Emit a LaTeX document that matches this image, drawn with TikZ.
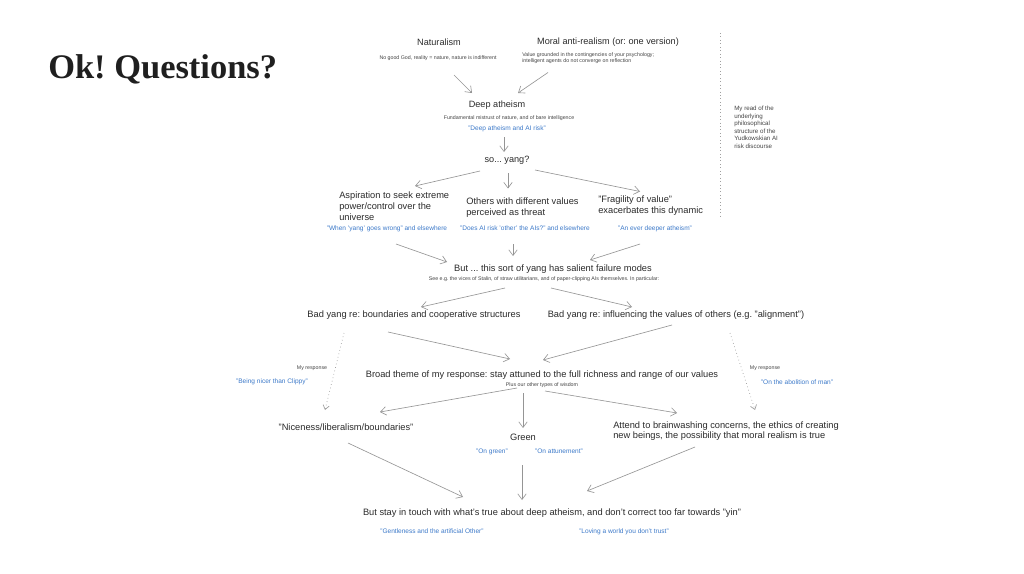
\documentclass[tikz,border=0pt]{standalone}
\usepackage{fontspec}
\setmainfont{Liberation Sans}
\newfontfamily\titlefont{Liberation Serif}
\usetikzlibrary{arrows.meta,calc}
\definecolor{inkgray}{HTML}{2A2A2A}
\definecolor{notegray}{HTML}{444444}
\definecolor{linkblue}{HTML}{3B78C8}
\definecolor{arrowgray}{HTML}{959595}
\definecolor{dotgray}{HTML}{A0A0A0}
\frenchspacing

\begin{document}
\begin{tikzpicture}[x=0.025cm, y=-0.025cm,
  every node/.style={inner sep=0pt, text=inkgray},
  head/.style={font=\fontsize{6.5}{8}\selectfont, text height=4.7pt, text depth=1.3pt},
  main/.style={font=\fontsize{6.6}{7.8}\selectfont, text height=4.7pt, text depth=1.4pt},
  block/.style={font=\fontsize{6.6}{7.9}\selectfont, align=left, anchor=west},
  note/.style={font=\fontsize{3.75}{4.3}\selectfont, text=notegray, text height=2.7pt, text depth=0.8pt},
  noteblock/.style={font=\fontsize{3.75}{4.3}\selectfont, text=notegray, align=left, anchor=west},
  link/.style={font=\fontsize{4.65}{5.5}\selectfont, text=linkblue, text height=3.3pt, text depth=1pt},
  side/.style={font=\fontsize{4.4}{5.3}\selectfont, text=notegray, align=left},
  arr/.style={draw=arrowgray, line width=0.45pt, -{Straight Barb[length=4pt,width=6pt]}},
  dotarr/.style={draw=dotgray, line width=0.5pt, dotted, -{Straight Barb[length=3pt,width=4.5pt]}}]
  \path[use as bounding box] (0,0) rectangle (1024,573);

  % title
  \node[font=\titlefont\bfseries\fontsize{24.5}{28}\selectfont, anchor=base west, text=black!88] (title) at (48,78) {Ok! Questions?};

  % upper half: the argument
  \node[head] (nat) at (439,43) {Naturalism};
  \node[note] (natsub) at (438,58) {No good God, reality = nature, nature is indifferent};
  \node[head] (anti) at (608,42) {Moral anti-realism (or: one version)};
  \node[noteblock] (antisub) at (522,58.5) {Value grounded in the contingencies of your psychology;\\intelligent agents do not converge on reflection};
  \node[head] (deep) at (497,105) {Deep atheism};
  \node[note] (deepsub) at (509,118) {Fundamental mistrust of nature, and of bare intelligence};
  \node[link] (deeplink) at (507,129) {"Deep atheism and AI risk"};
  \node[head] (yang) at (507,160) {so... yang?};
  \node[block] (aspire) at (339,206) {Aspiration to seek extreme\\power/control over the\\universe};
  \node[block] (others) at (466,207.5) {Others with different values\\perceived as threat};
  \node[block] (fragile) at (598,205.5) {"Fragility of value"\\exacerbates this dynamic};
  \node[link] (l1) at (387,229) {"When 'yang' goes wrong" and elsewhere};
  \node[link] (l2) at (525,229) {"Does AI risk 'other' the AIs?" and elsewhere};
  \node[link] (l3) at (655,229) {"An ever deeper atheism"};
  \node[main] (fail) at (553,269) {But ... this sort of yang has salient failure modes};
  \node[note] (failsub) at (544,279) {See e.g. the vices of Stalin, of straw utilitarians, and of paper-clipping AIs themselves. In particular:};
  \node[main] (badb) at (414,315) {Bad yang re: boundaries and cooperative structures};
  \node[main] (badv) at (676,315) {Bad yang re: influencing the values of others (e.g. "alignment")};

  % lower half: the response
  \node[main] (broad) at (542,375) {Broad theme of my response: stay attuned to the full richness and range of our values};
  \node[note] (broadsub) at (542,385) {Plus our other types of wisdom};
  \node[note] (respl) at (312,368) {My response};
  \node[link] (linkl) at (272,382) {"Being nicer than Clippy"};
  \node[note] (respr) at (765,368) {My response};
  \node[link] (linkr) at (797,383) {"On the abolition of man"};
  \node[main] (nice) at (346,428) {"Niceness/liberalism/boundaries"};
  \node[main] (green) at (523,438) {Green};
  \node[link] (lgreen) at (492,452) {"On green"};
  \node[link] (lattune) at (559,452) {"On attunement"};
  \node[block, font=\fontsize{6.6}{7.4}\selectfont] (attend) at (613,431) {Attend to brainwashing concerns, the ethics of creating\\new beings, the possibility that moral realism is true};
  \node[main] (final) at (552,513) {But stay in touch with what's true about deep atheism, and don't correct too far towards "yin"};
  \node[link] (lgentle) at (432,532) {"Gentleness and the artificial Other"};
  \node[link] (lloving) at (624,532) {"Loving a world you don't trust"};

  % side remark
  \draw[dotgray, dotted, line width=0.45pt] (720.5,33) -- (720.5,218);
  \node[side, anchor=north west] (myread) at (734,106) {My read of the\\underlying\\philosophical\\structure of the\\Yudkowskian AI\\risk discourse};

  % arrows
  \draw[arr] ($(natsub)+(16,17)$) -- ($(deep)+(-25,-12)$);
  \draw[arr] ($(antisub.west)+(26,14)$) -- ($(deep)+(21,-12)$);
  \draw[arr] ($(deeplink)+(-3,8)$) -- ($(yang)+(-3,-8)$);
  \draw[arr] ($(yang)+(-27,11)$) -- ($(aspire.west)+(76,-20)$);
  \draw[arr] ($(yang)+(1,13)$) -- ($(others.west)+(42,-19)$);
  \draw[arr] ($(yang)+(28,10)$) -- ($(fragile.west)+(42,-14)$);
  \draw[arr] ($(l1)+(9,15)$) -- ($(fail)+(-106,-7)$);
  \draw[arr] ($(l2)+(-12,15)$) -- ($(fail)+(-40,-13)$);
  \draw[arr] ($(l3)+(-15,15)$) -- ($(fail)+(37,-9)$);
  \draw[arr] ($(failsub)+(-39,9)$) -- ($(badb)+(7,-8)$);
  \draw[arr] ($(failsub)+(7,9)$) -- ($(badv)+(-44,-8)$);
  \draw[arr] ($(badb)+(-26,17)$) -- ($(broad)+(-32,-16)$);
  \draw[arr] ($(badv)+(-4,10)$) -- ($(broad)+(1,-15)$);
  \draw[dotarr] ($(badb)+(-70,18)$) -- ($(nice)+(-21,-18)$);
  \draw[dotarr] ($(badv)+(54,18)$) -- ($(attend.west)+(142,-21)$);
  \draw[arr] ($(broadsub)+(-25,3)$) -- ($(nice)+(34,-16)$);
  \draw[arr] ($(broadsub)+(-19,8)$) -- ($(green)+(0,-10)$);
  \draw[arr] ($(broadsub)+(3,6)$) -- ($(attend.west)+(64,-18)$);
  \draw[arr] ($(nice)+(2,15)$) -- ($(final)+(-89,-16)$);
  \draw[arr] ($(green)+(-1,27)$) -- ($(final)+(-30,-13)$);
  \draw[arr] ($(attend.west)+(82,16)$) -- ($(final)+(35,-22)$);
\end{tikzpicture}
\end{document}
